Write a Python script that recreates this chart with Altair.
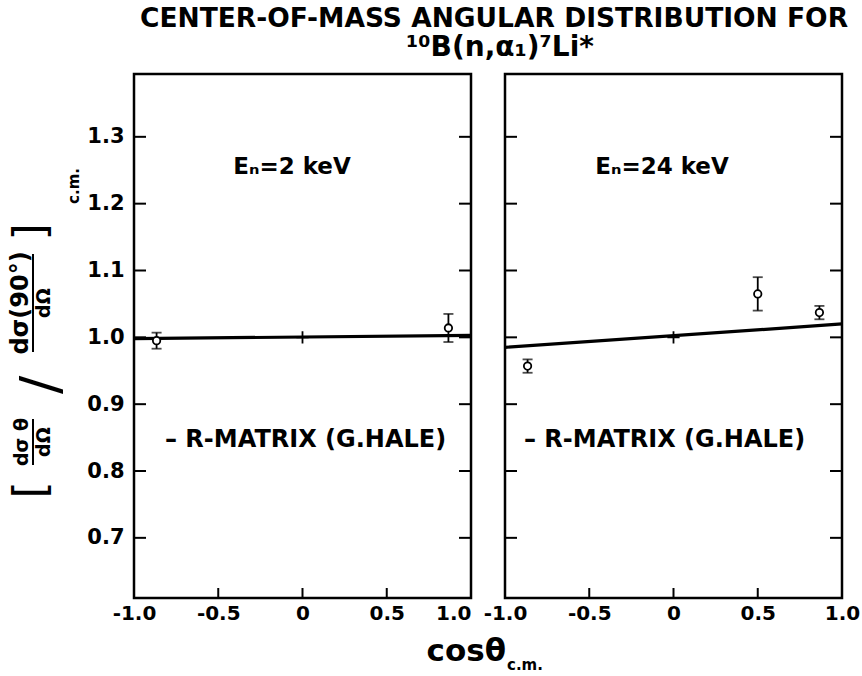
import altair as alt
import pandas as pd

# ---------------- data ----------------
curve_x = [-1.0, 1.0]
curve_y_2kev = [0.998, 1.003]
curve_y_24kev = [0.985, 1.020]

pts_x_2kev = [-0.866, 0.866]
pts_y_2kev = [0.995, 1.014]
pts_err_2kev = [0.012, 0.021]

pts_x_24kev = [-0.866, 0.50, 0.866]
pts_y_24kev = [0.957, 1.065, 1.037]
pts_err_24kev = [0.010, 0.025, 0.010]

norm_x = [0.0]
norm_y = [1.0]

y_ticks = [0.7, 0.8, 0.9, 1.0, 1.1, 1.2, 1.3]
x_ticks = [-1.0, -0.5, 0.0, 0.5, 1.0]
x_inner_ticks = [-0.5, 0.0, 0.5]

energy_labels = ["Eₙ=2 keV", "Eₙ=24 keV"]
legend_label = "– R-MATRIX (G.HALE)"
title_lines = ["CENTER-OF-MASS ANGULAR DISTRIBUTION FOR", "¹⁰B(n,α₁)⁷Li*"]
xtitle_parts = ["cosθ", "c.m."]
ylabel_parts = ["[", "dσ θ", "dΩ", "/", "dσ(90°)", "dΩ", "]", "c.m."]

# ---------------- layout ----------------
W, H = 337, 524
FONT = "DejaVu Sans"

xs = alt.Scale(domain=[-1.0, 1.0], nice=False, zero=False)
ys = alt.Scale(domain=[0.61, 1.394], nice=False, zero=False)


def x_axis(edge_value, edge_align):
    return alt.Axis(values=x_ticks, title=None, ticks=False, domain=False, grid=False,
                    labelExpr="datum.value == 0 ? '0' : replace(format(datum.value, '.1f'), '\u2212', '-')",
                    labelFlush=False, labelOverlap=False, labelPadding=5,
                    labelAlign={"condition": {"test": f"datum.value == {edge_value}", "value": edge_align},
                                "value": "center"},
                    labelFontSize=20, labelFont=FONT, labelFontWeight="bold", labelColor="black")


def y_axis(show):
    if show:
        return alt.Axis(values=y_ticks, title=None, ticks=False, domain=False, grid=False,
                        labelPadding=10, labelFontSize=21, labelFont=FONT,
                        labelFontWeight="bold", labelColor="black", format=".1f")
    return None


def txt(text, px, py, size=20, weight="bold", align="center", angle=0, baseline="middle"):
    kw = dict(font=FONT, fontSize=size, fontWeight=weight, align=align,
              baseline=baseline, color="black")
    if angle:
        kw["angle"] = angle
    return alt.Chart(pd.DataFrame({"t": [text]})).mark_text(**kw).encode(
        x=alt.value(px), y=alt.value(py), text="t:N")


def vbar(px, py1, py2, width=2):
    return alt.Chart(pd.DataFrame({"a": [0]})).mark_rule(color="black", strokeWidth=width).encode(
        x=alt.value(px), y=alt.value(py1), y2=alt.value(py2))


def panel(curve_y, px, py, pe, elabel, show_y, extras, xaxis):
    X = lambda f: alt.X(f, scale=xs, axis=xaxis)
    Y = lambda f: alt.Y(f, scale=ys, axis=y_axis(show_y))

    curve = alt.Chart(pd.DataFrame({"x": curve_x, "y": curve_y})).mark_line(
        color="black", strokeWidth=3.2).encode(x=X("x:Q"), y=Y("y:Q"))

    pts = alt.Chart(pd.DataFrame({"x": px, "y": py, "e": pe})).transform_calculate(
        lo="datum.y - datum.e", hi="datum.y + datum.e")
    bars = pts.mark_rule(color="black", strokeWidth=1.8).encode(
        x=X("x:Q"), y=Y("lo:Q"), y2="hi:Q")
    cap_lo = pts.mark_tick(orient="horizontal", size=10, thickness=1.8, color="black").encode(
        x=X("x:Q"), y=Y("lo:Q"))
    cap_hi = pts.mark_tick(orient="horizontal", size=10, thickness=1.8, color="black").encode(
        x=X("x:Q"), y=Y("hi:Q"))
    circ = pts.mark_point(shape="circle", fill="white", stroke="black", strokeWidth=1.8,
                          size=55, opacity=1, fillOpacity=1).encode(x=X("x:Q"), y=Y("y:Q"))

    norm = alt.Chart(pd.DataFrame({"x": norm_x, "y": norm_y})).mark_point(
        shape="M-1,0L1,0M0,-1L0,1", filled=False, stroke="black", strokeWidth=1.8,
        size=150, opacity=1).encode(x=X("x:Q"), y=Y("y:Q"))

    ydf = pd.DataFrame({"y": y_ticks})
    tick_l = alt.Chart(ydf).mark_rule(color="black", strokeWidth=2).encode(
        y=Y("y:Q"), x=alt.value(0), x2=alt.value(12))
    tick_r = alt.Chart(ydf).mark_rule(color="black", strokeWidth=2).encode(
        y=Y("y:Q"), x=alt.value(W - 12), x2=alt.value(W))
    tick_b = alt.Chart(pd.DataFrame({"x": x_inner_ticks})).mark_rule(color="black", strokeWidth=2).encode(
        x=X("x:Q"), y=alt.value(H - 10), y2=alt.value(H))

    layers = [tick_l, tick_r, tick_b, curve, bars, cap_lo, cap_hi, circ, norm,
              txt(elabel[0], elabel[1], elabel[2], size=23),
              txt(legend_label, extras[0], extras[1], size=24, align="left")]
    layers += extras[2]
    return alt.layer(*layers).properties(width=W, height=H)


# decorations placed relative to the left panel origin
left_extra = [
    # anchor for the top-left corner of the page
    alt.Chart(pd.DataFrame({"a": [0]})).mark_rule(opacity=0, strokeWidth=1).encode(
        x=alt.value(-132), x2=alt.value(-131), y=alt.value(-72), y2=alt.value(-71)),
    txt(title_lines[0], 360, -55, size=26.5),
    txt(title_lines[1], 366, -26, size=28),
    txt(xtitle_parts[0], 372, 578, size=31, align="right"),
    txt(xtitle_parts[1], 373, 591, size=15, align="left"),
    # y-axis label (rotated fraction)
    txt(ylabel_parts[0], -102, 416, size=44, weight="normal", angle=270),
    txt(ylabel_parts[1], -112, 368, size=19, angle=270),
    vbar(-101, 345, 391),
    txt(ylabel_parts[2], -90, 368, size=19, angle=270),
    txt(ylabel_parts[3], -92, 311, size=54, weight="normal", angle=270),
    txt(ylabel_parts[4], -113, 229, size=24, angle=270),
    vbar(-101, 180, 278),
    txt(ylabel_parts[5], -90, 229, size=19, angle=270),
    txt(ylabel_parts[6], -102, 158, size=44, weight="normal", angle=270),
    txt(ylabel_parts[7], -60, 112, size=15, angle=270),
]

left = panel(curve_y_2kev, pts_x_2kev, pts_y_2kev, pts_err_2kev,
             (energy_labels[0], 158, 93), True, (31, 366, left_extra), x_axis(1, "right"))
right = panel(curve_y_24kev, pts_x_24kev, pts_y_24kev, pts_err_24kev,
              (energy_labels[1], 157, 93), False, (19, 366, []), x_axis(-1, "center"))

chart = alt.hconcat(left, right, spacing=34, bounds="flush").properties(
    padding=0, background="white"
).configure_view(stroke="black", strokeWidth=2.5)

chart.save("out.html", embed_options={"renderer": "svg", "actions": False})
